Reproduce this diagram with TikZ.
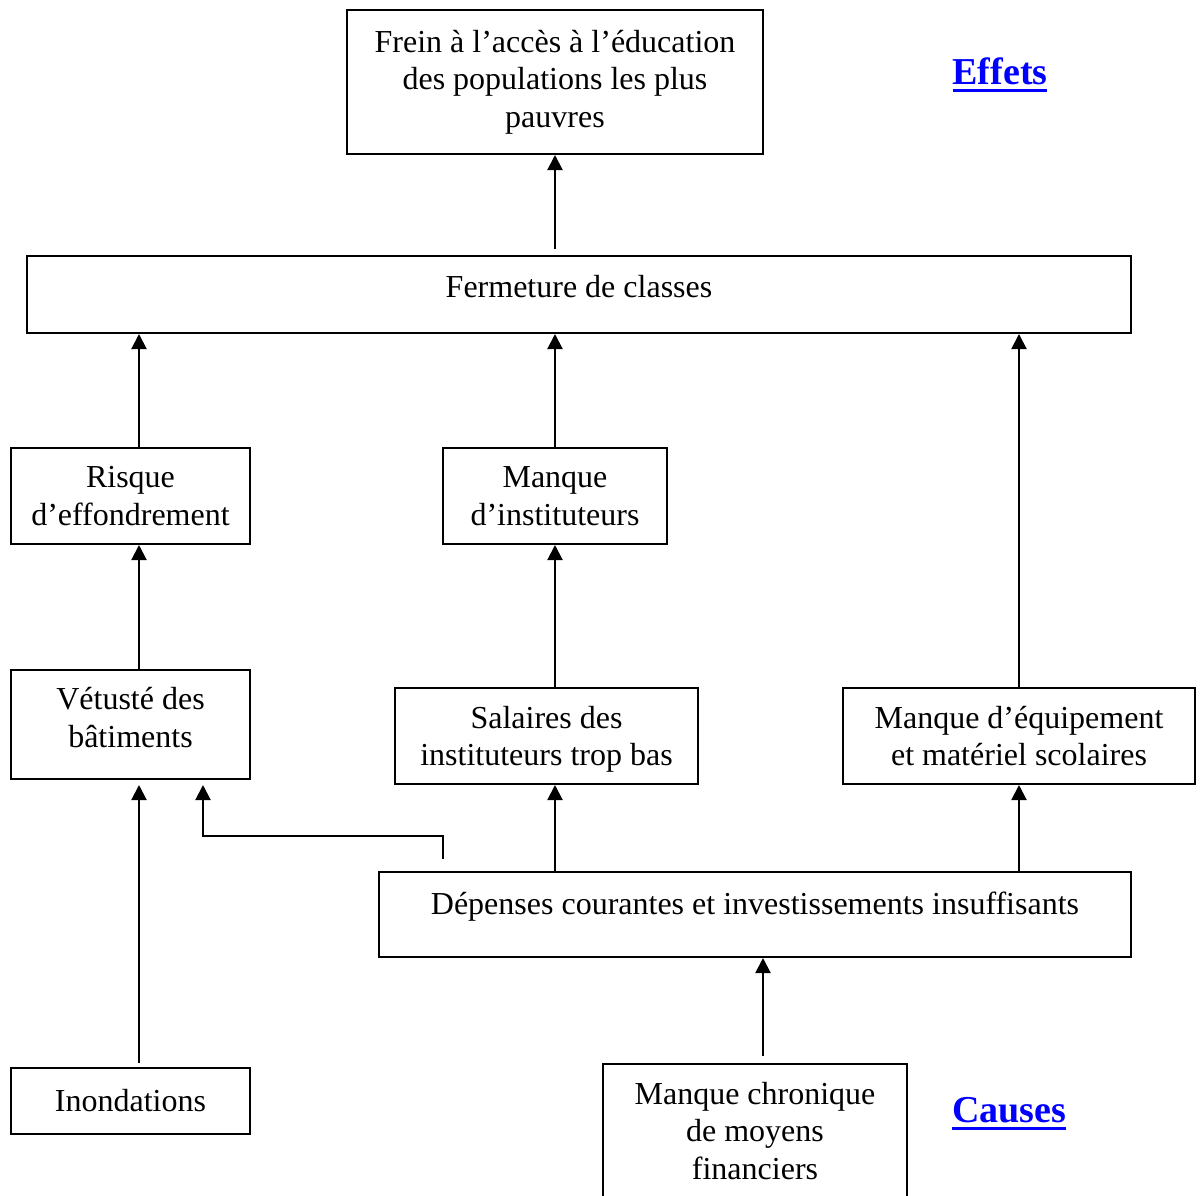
\documentclass[tikz,border=0pt]{standalone}
\usepackage{fontspec}
\setmainfont{Liberation Serif}
\usetikzlibrary{arrows.meta}
\definecolor{linkblue}{RGB}{0,0,255}
\newcommand{\headul}[1]{\setbox0\hbox{#1}\rlap{\rule[-4pt]{\wd0}{1.4pt}}\box0}

\begin{document}
\begin{tikzpicture}[x=0.5pt,y=-0.5pt,
  every node/.style={font=\fontsize{16}{18.8}\selectfont},
  box/.style={draw,line width=1pt,inner sep=0pt,align=center},
  arr/.style={line width=1pt,-{Triangle[width=7.5pt,length=7.5pt]}},
  heading/.style={font=\fontsize{19}{22}\selectfont\bfseries,text=linkblue,anchor=base,inner sep=0pt}]
  \useasboundingbox (0,0) rectangle (1200,1195);
  \node[box,minimum width=208pt,minimum height=72pt] (frein) at (555,82) {Frein à l’accès à l’éducation\\des populations les plus\\pauvres};
  \node[box,minimum width=552pt,minimum height=38.5pt,text depth=8.5pt] (fermeture) at (579,294.5) {Fermeture de classes};
  \node[box,minimum width=119.5pt,minimum height=48pt] (risque) at (130.5,496) {Risque\\d’effondrement};
  \node[box,minimum width=112pt,minimum height=48pt] (instit) at (555,496) {Manque\\d’instituteurs};
  \node[box,minimum width=119.5pt,minimum height=54.5pt,text depth=7pt] (vetuste) at (130.5,724.5) {Vétusté des\\bâtiments};
  \node[box,minimum width=151.5pt,minimum height=48pt,text depth=0pt] (salaires) at (546.5,736) {Salaires des\\instituteurs trop bas};
  \node[box,minimum width=176pt,minimum height=48pt] (equip) at (1019,736) {Manque d’équipement\\et matériel scolaires};
  \node[box,minimum width=376pt,minimum height=42.5pt,text depth=11.5pt] (depenses) at (755,914.5) {Dépenses courantes et investissements insuffisants};
  \node[box,minimum width=119.5pt,minimum height=33pt] (inond) at (130.5,1101) {Inondations};
  \node[box,minimum width=152pt,minimum height=67pt] (chronique) at (755,1131) {Manque chronique\\de moyens\\financiers};
  \node[heading] (effets) at (1000,84) {\headul{Effets}};
  \node[heading] (causes) at (1009,1122) {\headul{Causes}};
  \coordinate (colL) at (139,0);
  \coordinate (colV) at (203,0);
  \coordinate (colD) at (443,0);
  \coordinate (colC) at (763,0);
  \draw[arr,shorten <=3pt] (fermeture.north -| frein.south) -- (frein.south);
  \draw[arr] (risque.north -| colL) -- (fermeture.south -| colL);
  \draw[arr] (instit.north) -- (fermeture.south -| instit.north);
  \draw[arr] (equip.north) -- (fermeture.south -| equip.north);
  \draw[arr] (vetuste.north -| colL) -- (risque.south -| colL);
  \draw[arr] (salaires.north -| instit.south) -- (instit.south);
  \draw[arr,shorten <=2pt,shorten >=2.5pt] (inond.north -| colL) -- (vetuste.south -| colL);
  \draw[arr,shorten <=6pt,shorten >=2.5pt] (depenses.north -| colD) -- ++(0,-35) -| (vetuste.south -| colV);
  \draw[arr] (depenses.north -| instit.south) -- (salaires.south -| instit.south);
  \draw[arr] (depenses.north -| equip.south) -- (equip.south);
  \draw[arr,shorten <=3.5pt] (chronique.north -| colC) -- (depenses.south -| colC);
\end{tikzpicture}
\end{document}
